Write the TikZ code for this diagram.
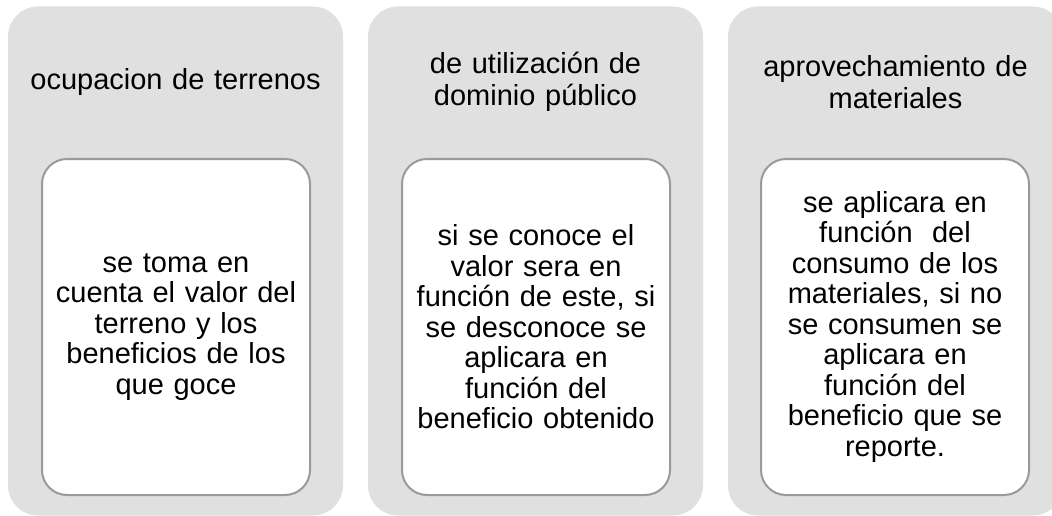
\documentclass[tikz,border=0pt]{standalone}
\usepackage{fontspec}
\setmainfont{Liberation Sans}
\definecolor{colgray}{HTML}{E0E0E0}
\definecolor{boxline}{HTML}{9A9A9A}
\tikzset{
  column/.style={fill=colgray, draw=none, rounded corners=30pt, minimum width=335pt, minimum height=509pt, inner sep=0pt},
  title/.style={text width=325pt, align=center, font=\fontsize{29}{32}\selectfont, inner sep=0pt},
  card/.style={fill=white, draw=boxline, line width=2pt, rounded corners=25pt, minimum width=268pt, minimum height=336pt, inner sep=0pt},
  cardtext/.style={text width=260pt, align=center, font=\fontsize{29}{30.5}\selectfont, inner sep=0pt}
}
\begin{document}
\begin{tikzpicture}[x=1pt, y=-1pt]
\useasboundingbox (0,0) rectangle (1052,516);
\clip (0,0) rectangle (1052,516);
\node[column] (c1) at (175.5,261) {};
\node[column] (c2) at (535.5,261) {};
\node[column] (c3) at (895.5,261) {};
\node[title] (t1) at (175.5,82) {ocupacion de terrenos};
\node[title] (t2) at (535.5,82) {de utilización de\\dominio público};
\node[title] (t3) at (895.5,82) {aprovechamiento de\\materiales};
\node[card] (b1) at (176,327) {};
\node[card] (b2) at (536,327) {};
\node[card] (b3) at (895,327) {};
\node[cardtext] (x1) at (b1) {se toma en\\cuenta el valor del\\terreno y los\\beneficios de los\\que goce};
\node[cardtext] (x2) at (b2) {si se conoce el\\valor sera en\\función de este, si\\se desconoce se\\aplicara en\\función del\\beneficio obtenido};
\node[cardtext] (x3) at (b3) {se aplicara en\\función\ \ del\\consumo de los\\materiales, si no\\se consumen se\\aplicara en\\función del\\beneficio que se\\reporte.};
\end{tikzpicture}
\end{document}
